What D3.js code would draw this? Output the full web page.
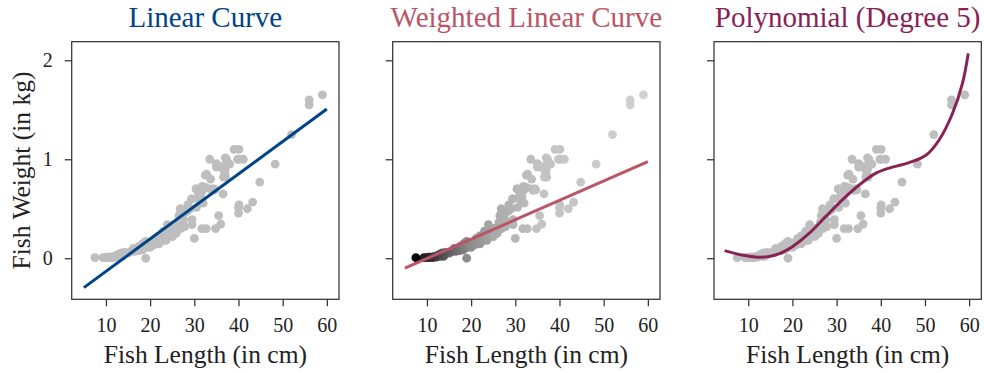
<!DOCTYPE html>
<html>
<head>
<meta charset="utf-8">
<script src="https://cdn.jsdelivr.net/npm/d3@7"></script>
<style>
  body { margin: 0; background: #fff; }
  svg { display: block; }
  text { font-family: "Liberation Serif", "Times New Roman", serif; fill: #222; }
</style>
</head>
<body>
<svg id="chart"></svg>
<script>
// Fish market data: length (cm) and weight (kg)
const fishLength = [
  23.2,24,23.9,26.3,26.5,26.8,26.8,27.6,27.6,28.5,28.4,28.7,29.1,29.5,29.4,29.4,30.4,30.4,30.9,31,31.3,31.4,31.5,31.8,31.9,31.8,32,32.7,32.8,33.5,35,35,36.2,37.4,38,
  12.9,16.5,17.5,18.2,18.6,19,19.1,19.4,20.4,20.5,20.5,21,21.1,22,22,22.1,23.6,24,25,29.5,
  23.6,24.1,25.6,28.5,33.7,37.3,
  13.5,14.3,16.3,17.5,18.4,19,19,19.8,21.2,23,24,
  7.5,12.5,13.8,15,15.7,16.2,16.8,17.2,17.8,18.2,19,19,19,19.3,20,20,20,20,20,20.5,20.5,20.7,21,21.5,22,22,22.6,23,23.5,25,25.2,25.4,25.4,25.4,25.9,26.9,27.8,30.5,32,32.5,34,34,34.5,34.6,36.5,36.5,36.6,36.9,37,37,37.1,39,39.8,40.1,40.2,41.1,
  30,31.7,32.7,34.8,35.5,36,40,40,40.1,42,43.2,44.8,48.3,52,56,56,59,
  9.3,10,10.1,10.4,10.7,10.8,11.3,11.3,11.4,11.5,11.7,12.1,13.2,13.8
];
const fishWeight = [
  0.242,0.29,0.34,0.363,0.43,0.45,0.5,0.39,0.45,0.5,0.475,0.5,0.5,0.34,0.6,0.6,0.7,0.7,0.61,0.65,0.575,0.685,0.62,0.68,0.7,0.725,0.72,0.714,0.85,1.0,0.92,0.955,0.925,0.975,0.95,
  0.04,0.069,0.078,0.087,0.12,0,0.11,0.12,0.15,0.145,0.16,0.14,0.16,0.169,0.161,0.2,0.18,0.29,0.272,0.39,
  0.27,0.27,0.306,0.54,0.8,1.0,
  0.055,0.06,0.09,0.12,0.15,0.14,0.17,0.145,0.2,0.273,0.3,
  0.0059,0.032,0.04,0.0515,0.07,0.1,0.078,0.08,0.085,0.085,0.11,0.115,0.125,0.13,0.12,0.12,0.13,0.135,0.11,0.13,0.15,0.145,0.15,0.17,0.225,0.145,0.188,0.18,0.197,0.218,0.3,0.26,0.265,0.25,0.25,0.3,0.32,0.514,0.556,0.84,0.685,0.7,0.7,0.69,0.9,0.65,0.82,0.85,0.9,1.015,0.82,1.1,1.0,1.1,1.0,1.0,
  0.2,0.3,0.3,0.3,0.43,0.345,0.456,0.51,0.54,0.5,0.567,0.77,0.95,1.25,1.6,1.55,1.65,
  0.0067,0.0075,0.007,0.0097,0.0098,0.0087,0.01,0.0099,0.0098,0.0122,0.0134,0.0122,0.0197,0.0199
];

// Fitted curves
const fitX = [5, 60];
const linearY = [-0.297, 1.508];
const weightedY = [-0.101, 0.976];
const polyX = [4.65, 8.6, 12.8, 16.2, 20, 23.75, 27.5, 31.3, 35.1, 38.9, 42.6, 46.4, 50.2, 53.2, 56.2, 58.5, 59.8];
const polyY = [0.077, 0.033, 0.01, 0.033, 0.117, 0.25, 0.42, 0.59, 0.74, 0.86, 0.92, 0.966, 1.04, 1.195, 1.46, 1.77, 2.07];

const xTicks = [10, 20, 30, 40, 50, 60];
const yTicks = [0, 1, 2];
const titles = ["Linear Curve", "Weighted Linear Curve", "Polynomial (Degree 5)"];
const lineColors = ["#004488", "#BB5566", "#882255"];

const W = 984, H = 373;
const svg = d3.select("#chart").attr("width", W).attr("height", H);

const panelLeft = [71.7, 392.7, 714];
const panelW = 267.3;
const plotTop = 41.7, plotBottom = 299.3;

const y = d3.scaleLinear().domain([-0.415, 2.188]).range([plotBottom, plotTop]);

const fish = fishLength.map((l, i) => ({ len: l, kg: fishWeight[i] }));

// shading of the weighted panel: dark for short fish, light for long
const weightShade = d3.scaleLinear()
  .domain([7.5, 10, 14, 19, 25, 35, 60])
  .range(["#000", "#2e2e2e", "#5c5c5c", "#8c8c8c", "#aaaaaa", "#c2c2c2", "#d2d2d2"])
  .clamp(true);

const lineGen = (x) => d3.line().x(d => x(d[0])).y(d => y(d[1]));

panelLeft.forEach((left, p) => {
  const x = d3.scaleLinear().domain([2.25, 62.75]).range([left, left + panelW]);
  const g = svg.append("g");

  // points
  const pts = p === 1 ? fish.slice().sort((a, b) => b.len - a.len) : fish;
  g.selectAll("circle").data(pts).join("circle")
    .attr("cx", d => x(d.len))
    .attr("cy", d => y(d.kg))
    .attr("r", 4.4)
    .attr("fill", d => p === 1 ? weightShade(d.len) : "#bebebe");

  // fitted line
  let curve;
  if (p === 0) curve = fitX.map((v, i) => [v, linearY[i]]);
  else if (p === 1) curve = fitX.map((v, i) => [v, weightedY[i]]);
  else curve = polyX.map((v, i) => [v, polyY[i]]);

  g.append("path")
    .datum(curve)
    .attr("fill", "none")
    .attr("stroke", lineColors[p])
    .attr("stroke-width", 3)
    .attr("d", p === 2 ? lineGen(x).curve(d3.curveCatmullRom)(curve) : lineGen(x)(curve));

  // axes
  const xa = g.append("g")
    .attr("transform", `translate(0,${plotBottom})`)
    .call(d3.axisBottom(x).tickValues(xTicks).tickSize(7).tickPadding(12).tickSizeOuter(0));
  const ya = g.append("g")
    .attr("transform", `translate(${left},0)`)
    .call(d3.axisLeft(y).tickValues(yTicks).tickFormat(d3.format("d")).tickSize(7).tickPadding(12).tickSizeOuter(0));
  if (p > 0) ya.selectAll("text").remove();

  [xa, ya].forEach(a => {
    a.select(".domain").remove();
    a.selectAll("line").attr("stroke", "#333").attr("stroke-width", 1.25);
    a.selectAll("text").attr("font-size", 20).attr("fill", "#222")
      .style("font-family", "'Liberation Serif', serif");
  });

  // frame
  g.append("rect")
    .attr("x", left).attr("y", plotTop)
    .attr("width", panelW).attr("height", plotBottom - plotTop)
    .attr("fill", "none").attr("stroke", "#333").attr("stroke-width", 1.25);

  // title
  g.append("text")
    .attr("x", left + panelW / 2).attr("y", 27)
    .attr("text-anchor", "middle")
    .attr("font-size", 29)
    .style("fill", lineColors[p])
    .text(titles[p]);

  // x label
  g.append("text")
    .attr("x", left + panelW / 2).attr("y", 363)
    .attr("text-anchor", "middle")
    .attr("font-size", 25.5)
    .text("Fish Length (in cm)");
});

svg.append("text")
  .attr("transform", `translate(30,${(plotTop + plotBottom) / 2}) rotate(-90)`)
  .attr("text-anchor", "middle")
  .attr("font-size", 25.5)
  .text("Fish Weight (in kg)");
</script>
</body>
</html>
